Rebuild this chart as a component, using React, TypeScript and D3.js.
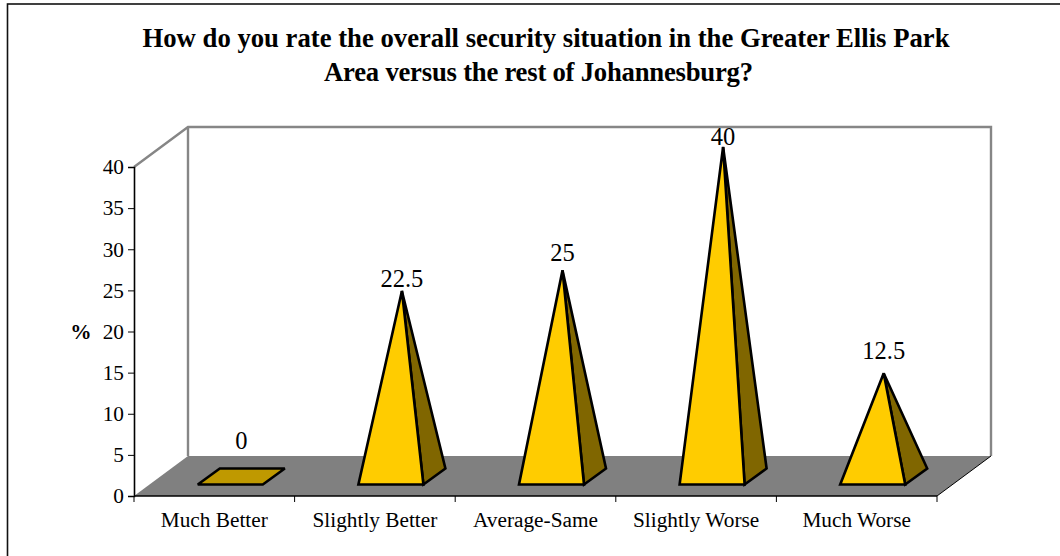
import React, { useEffect, useRef } from 'react';
import * as d3 from 'd3';

const categories = ['Much Better', 'Slightly Better', 'Average-Same', 'Slightly Worse', 'Much Worse'];
const values = [0, 22.5, 25, 40, 12.5];
const valueLabels = ['0', '22.5', '25', '40', '12.5'];
const yTicks = [0, 5, 10, 15, 20, 25, 30, 35, 40];
const titleLines = [
  'How do you rate the overall security situation in the Greater Ellis Park',
  'Area versus the rest of Johannesburg?',
];

const width = 1060;
const height = 556;
const serif = '"Liberation Serif", "Times New Roman", serif';

export default function App() {
  const ref = useRef<SVGSVGElement>(null);

  useEffect(() => {
    const svg = d3.select(ref.current);
    svg.selectAll('*').remove();

    // front plane of the 3d box, the back plane is shifted by depth
    const dx = 54;
    const dy = -40;
    const x = d3.scaleBand().domain(categories).range([134, 937]);
    const y = d3.scaleLinear().domain([0, 40]).range([496, 167]);
    const y0 = y(0);
    const yTop = y(40);
    const xL = x.range()[0];
    const xR = x.range()[1];

    // outer frame runs off the right and bottom of the picture
    svg.append('rect')
      .attr('x', 7.5).attr('y', 4)
      .attr('width', width + 10).attr('height', height + 10)
      .attr('fill', '#fff').attr('stroke', '#111').attr('stroke-width', 1.6);

    // walls + floor
    svg.append('path')
      .attr('d', `M${xL},${yTop}L${xL + dx},${yTop + dy}H${xR + dx}V${y0 + dy}`)
      .attr('fill', 'none').attr('stroke', '#868686').attr('stroke-width', 2.4);
    svg.append('path')
      .attr('d', `M${xL + dx},${yTop + dy}V${y0 + dy}`)
      .attr('stroke', '#868686').attr('stroke-width', 2.4);
    svg.append('path')
      .attr('d', `M${xL},${y0}L${xL + dx},${y0 + dy}H${xR + dx}L${xR},${y0}Z`)
      .attr('fill', '#808080');
    svg.append('path')
      .attr('d', `M${xR},${y0}L${xR + dx},${y0 + dy}`)
      .attr('stroke', '#000').attr('stroke-width', 1);

    // axes
    const yAxis = d3.axisLeft(y).tickValues(yTicks).tickSize(6).tickPadding(4);
    const gy = svg.append('g').attr('transform', `translate(${xL},0)`).call(yAxis as any);
    const xTicks = d3.range(categories.length + 1).map((i) => xL + i * x.bandwidth());
    const gx = svg.append('g');
    gx.append('line').attr('x1', xL).attr('x2', xR).attr('y1', y0).attr('y2', y0)
      .attr('stroke', '#000').attr('stroke-width', 1.6);
    gx.selectAll('line.tick').data(xTicks).join('line').attr('class', 'tick')
      .attr('x1', (d) => d).attr('x2', (d) => d)
      .attr('y1', y0).attr('y2', y0 + 6)
      .attr('stroke', '#000');
    gx.selectAll('text').data(categories).join('text')
      .attr('x', (d) => x(d)! + x.bandwidth() / 2)
      .attr('y', 527)
      .attr('text-anchor', 'middle')
      .attr('font-family', serif).attr('font-size', 21.3).attr('fill', '#000')
      .text((d) => d);
    gy.select('.domain').attr('stroke', '#000').attr('stroke-width', 1.6);
    gy.selectAll('text').attr('font-family', serif).attr('font-size', 21.3).attr('fill', '#000');

    svg.append('text')
      .attr('x', 81).attr('y', 339).attr('text-anchor', 'middle')
      .attr('font-family', serif).attr('font-size', 21.3).attr('font-weight', 700)
      .text('%');

    // pyramids
    const bw = 65;
    const bh = 16;
    const sx = 22;
    // baseline of each value label above the apex, nudged by eye
    const labelGaps = [27, 4, 9, 2, 14];
    categories.forEach((c, i) => {
      const v = values[i];
      const cx = x(c)! + x.bandwidth() / 2 + 27;
      const base = 484.5;
      const left = cx - bw / 2 - sx / 2;
      const right = left + bw;
      const apexX = cx;
      const apexY = y(v) - 20;
      const g = svg.append('g')
        .attr('stroke', '#000').attr('stroke-width', 2.6)
        .attr('stroke-linejoin', 'miter').attr('stroke-miterlimit', 3);
      if (v === 0) {
        g.append('path')
          .attr('d', `M${left},${base}H${right}L${right + sx},${base - bh}H${left + sx}Z`)
          .attr('fill', '#bf9900');
      } else {
        g.append('path')
          .attr('d', `M${right},${base}L${right + sx},${base - bh}L${apexX},${apexY}Z`)
          .attr('fill', '#806600');
        g.append('path')
          .attr('d', `M${left},${base}H${right}L${apexX},${apexY}Z`)
          .attr('fill', '#ffcc00');
      }
      svg.append('text')
        .attr('x', apexX)
        .attr('y', apexY - labelGaps[i])
        .attr('text-anchor', 'middle')
        .attr('font-family', serif).attr('font-size', 24.5).attr('fill', '#000')
        .text(valueLabels[i]);
    });

    // title, second line is a bit tighter in the original
    const title = svg.append('g')
      .attr('font-family', serif).attr('font-size', 26.7).attr('font-weight', 700).attr('fill', '#000');
    title.append('text')
      .attr('x', 546).attr('y', 47).attr('text-anchor', 'middle')
      .text(titleLines[0]);
    title.append('text')
      .attr('x', 324).attr('y', 81)
      .attr('textLength', 429).attr('lengthAdjust', 'spacing')
      .text(titleLines[1]);
  }, []);

  return (
    <svg
      ref={ref}
      width={width}
      height={height}
      style={{ position: 'absolute', left: 0, top: 0, background: '#fff' }}
    />
  );
}
